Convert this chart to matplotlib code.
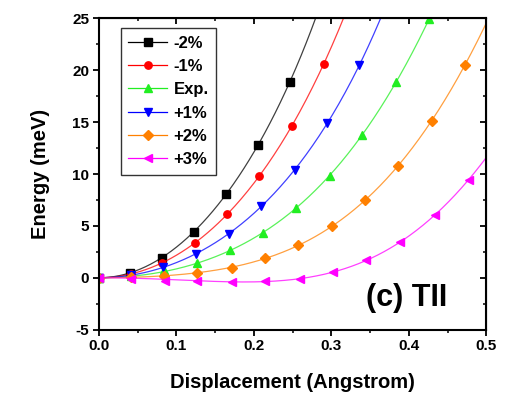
import matplotlib
matplotlib.use('Agg')
import matplotlib.pyplot as plt
import numpy as np

plt.rcParams['font.family'] = ['Liberation Sans', 'DejaVu Sans']
plt.rcParams['font.weight'] = 'bold'
plt.rcParams['axes.unicode_minus'] = False

labels = ['-2%', '-1%', 'Exp.', '+1%', '+2%', '+3%']
colors = ['#000000', '#ff0000', '#22ee22', '#0000ff', '#ff8000', '#ff00ff']
markers = ['s', 'o', '^', 'v', 'D', '<']

x_m2 = [0, 0.040, 0.081, 0.123, 0.164, 0.2055, 0.2465]
e_m2 = [0, 0.42, 1.95, 4.45, 8.05, 12.8, 18.9]

x_m1 = [0, 0.041, 0.082, 0.124, 0.165, 0.207, 0.249, 0.290]
e_m1 = [0, 0.33, 1.44, 3.32, 6.1, 9.85, 14.6, 20.6]

x_exp = [0, 0.042, 0.084, 0.1265, 0.1697, 0.2116, 0.2547, 0.298, 0.340, 0.383, 0.426]
e_exp = [0, 0.15, 0.7, 1.44, 2.64, 4.35, 6.72, 9.85, 13.8, 18.85, 24.9]

x_p1 = [0, 0.042, 0.083, 0.125, 0.1675, 0.209, 0.2526, 0.295, 0.336]
e_p1 = [0, 0.25, 1.02, 2.25, 4.19, 6.94, 10.4, 14.9, 20.5]

x_p2 = [0, 0.042, 0.084, 0.127, 0.172, 0.2146, 0.257, 0.301, 0.343, 0.386, 0.4296, 0.472]
e_p2 = [0, 0.05, 0.2, 0.47, 0.95, 1.86, 3.13, 4.97, 7.5, 10.8, 15.1, 20.5]

x_p3 = [0, 0.041, 0.0855, 0.127, 0.172, 0.2146, 0.259, 0.302, 0.3446, 0.3886, 0.434, 0.477]
e_p3 = [0, -0.08, -0.27, -0.34, -0.41, -0.34, -0.08, 0.56, 1.67, 3.45, 6.04, 9.47]

series = [(x_m2, e_m2), (x_m1, e_m1), (x_exp, e_exp),
          (x_p1, e_p1), (x_p2, e_p2), (x_p3, e_p3)]

fig = plt.figure(figsize=(5.12, 4.01), dpi=100)
ax = fig.add_axes([0.193, 0.178, 0.757, 0.776])

xs = np.linspace(0, 0.5, 300)
for (x, e), lab, c, m in zip(series, labels, colors, markers):
    x = np.asarray(x)
    e = np.asarray(e)
    # even polynomial through the points for the smooth curve
    A = np.vstack([x**2, x**4, x**6]).T
    coef, *_ = np.linalg.lstsq(A, e, rcond=None)
    fit = coef[0] * xs**2 + coef[1] * xs**4 + coef[2] * xs**6
    ax.plot(xs, fit, color=c, lw=0.9, alpha=0.75)
    ax.plot(x, e, linestyle='none', marker=m, color=c, ms=5.3, mec=c)
    ax.plot([], [], color=c, lw=0.9, marker=m, ms=5.3, label=lab)

ax.set_xlim(0, 0.5)
ax.set_ylim(-5, 25)
ax.set_xticks(np.arange(0, 0.51, 0.1))
ax.set_yticks(np.arange(-5, 26, 5))
ax.set_xticks(np.arange(0.05, 0.5, 0.1), minor=True)
ax.set_yticks(np.arange(-2.5, 25, 5), minor=True)
ax.set_xticklabels(['0.0', '0.1', '0.2', '0.3', '0.4', '0.5'])

ax.tick_params(which='major', direction='out', length=4, width=1.3, labelsize=11, pad=3)
ax.tick_params(which='minor', direction='out', length=2.5, width=1.1)

# inward ticks on the top and right sides
axt = ax.secondary_xaxis('top')
axt.set_xticks(np.arange(0, 0.51, 0.1))
axt.set_xticks(np.arange(0.05, 0.5, 0.1), minor=True)
axt.tick_params(which='major', direction='in', length=4, width=1.3, labeltop=False)
axt.tick_params(which='minor', direction='in', length=2.5, width=1.1)
axr = ax.secondary_yaxis('right')
axr.set_yticks(np.arange(-5, 26, 5))
axr.set_yticks(np.arange(-2.5, 25, 5), minor=True)
axr.tick_params(which='major', direction='in', length=4, width=1.3, labelright=False)
axr.tick_params(which='minor', direction='in', length=2.5, width=1.1)

for s in ax.spines.values():
    s.set_linewidth(1.5)

ax.set_xlabel('Displacement (Angstrom)', fontsize=14.5, fontweight='bold', labelpad=14)
ax.set_ylabel('Energy (meV)', fontsize=14.5, fontweight='bold', labelpad=16)

ax.text(0.90, 0.055, '(c) TII', transform=ax.transAxes, ha='right', va='bottom',
        fontsize=22, fontweight='bold')

leg = ax.legend(loc='upper left', bbox_to_anchor=(0.057, 0.969), borderaxespad=0,
                fontsize=12, numpoints=1, handlelength=2.3, handletextpad=0.4,
                labelspacing=0.5, fancybox=False, edgecolor='black',
                borderpad=0.45)
leg.get_frame().set_linewidth(1.0)

fig.savefig('out.png', dpi=100)
